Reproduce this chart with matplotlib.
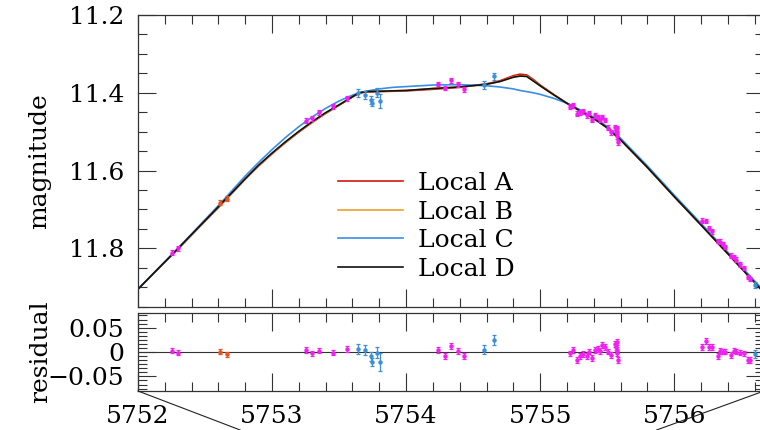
import matplotlib
matplotlib.use("Agg")
from matplotlib import pyplot as plt
from matplotlib.ticker import MultipleLocator
from matplotlib.lines import Line2D

plt.rcParams['font.family'] = ['DejaVu Serif']
plt.rcParams['axes.unicode_minus'] = True

# model light curves (HJD - 2450000, magnitude)
curve_x = [5752.0, 5752.3, 5752.6, 5752.8, 5752.9, 5753.0, 5753.1, 5753.2, 5753.3,
           5753.4, 5753.5, 5753.6, 5753.65, 5753.7, 5753.8, 5753.9, 5754.0, 5754.2,
           5754.4, 5754.6, 5754.7, 5754.8, 5754.85, 5754.9, 5754.95, 5755.0, 5755.1,
           5755.2, 5755.3, 5755.4, 5755.5, 5755.6, 5755.8, 5756.0, 5756.2, 5756.4,
           5756.7]
local_a = [11.905, 11.801, 11.695, 11.622, 11.588, 11.557, 11.528, 11.501, 11.476,
           11.453, 11.432, 11.411, 11.401, 11.398, 11.397, 11.396, 11.395, 11.391,
           11.386, 11.377, 11.369, 11.356, 11.352, 11.354, 11.366, 11.380, 11.404,
           11.427, 11.447, 11.466, 11.490, 11.521, 11.592, 11.667, 11.740, 11.814,
           11.925]
local_b = [11.905, 11.800, 11.694, 11.621, 11.587, 11.556, 11.527, 11.500, 11.475,
           11.452, 11.431, 11.410, 11.400, 11.397, 11.396, 11.395, 11.394, 11.389,
           11.385, 11.378, 11.371, 11.359, 11.356, 11.357, 11.369, 11.382, 11.405,
           11.427, 11.447, 11.466, 11.490, 11.521, 11.592, 11.667, 11.740, 11.814,
           11.925]
local_c = [11.905, 11.799, 11.690, 11.614, 11.579, 11.546, 11.515, 11.487, 11.462,
           11.440, 11.421, 11.406, 11.400, 11.396, 11.390, 11.386, 11.384, 11.380,
           11.379, 11.382, 11.385, 11.390, 11.394, 11.397, 11.400, 11.404, 11.414,
           11.427, 11.444, 11.463, 11.487, 11.517, 11.588, 11.663, 11.736, 11.810,
           11.921]
local_d = [11.905, 11.800, 11.693, 11.621, 11.586, 11.555, 11.526, 11.499, 11.474,
           11.451, 11.431, 11.410, 11.400, 11.397, 11.396, 11.395, 11.394, 11.389,
           11.385, 11.378, 11.371, 11.360, 11.357, 11.358, 11.370, 11.382, 11.405,
           11.427, 11.447, 11.466, 11.490, 11.521, 11.592, 11.667, 11.740, 11.814,
           11.925]

# magenta data set
m_x = [5752.254, 5752.299, 5753.251, 5753.300, 5753.351, 5753.455, 5753.560,
       5754.239, 5754.289, 5754.334, 5754.388, 5754.433,
       5755.221, 5755.246, 5755.276, 5755.300, 5755.321, 5755.346, 5755.366,
       5755.383, 5755.408, 5755.428, 5755.445, 5755.465, 5755.482, 5755.507,
       5755.527, 5755.557, 5755.564, 5755.570, 5755.573, 5755.575, 5755.579,
       5756.207, 5756.235, 5756.258, 5756.280, 5756.324, 5756.345, 5756.362,
       5756.381, 5756.425, 5756.447, 5756.463, 5756.493, 5756.517, 5756.550,
       5756.565]
m_mag = [11.811, 11.800, 11.472, 11.466, 11.450, 11.435, 11.414,
         11.377, 11.388, 11.368, 11.378, 11.391,
         11.436, 11.432, 11.454, 11.450, 11.448, 11.458, 11.452,
         11.470, 11.458, 11.462, 11.470, 11.462, 11.470, 11.490,
         11.502, 11.489, 11.496, 11.504, 11.491, 11.512, 11.527,
         11.729, 11.730, 11.748, 11.756, 11.781, 11.783, 11.789,
         11.797, 11.819, 11.822, 11.829, 11.841, 11.851, 11.874,
         11.879]
m_res = [0.003, -0.001, 0.005, -0.003, 0.003, -0.001, 0.007,
         0.005, -0.008, 0.013, 0.002, -0.009,
         -0.003, 0.005, -0.016, -0.009, -0.004, -0.009, 0.001,
         -0.013, 0.005, 0.006, 0.002, 0.014, 0.011, 0.001,
         -0.006, 0.017, 0.011, 0.005, 0.020, -0.003, -0.016,
         0.011, 0.022, 0.011, 0.011, -0.008, 0.002, 0.001,
         0.001, -0.006, 0.003, 0.001, -0.001, -0.003, -0.016,
         -0.016]
m_err = 0.006

# orange-red data set
o_x = [5752.610, 5752.664]
o_mag = [11.683, 11.672]
o_res = [0.001, -0.005]
o_err = 0.006

# blue data set
b_x = [5753.642, 5753.692, 5753.736, 5753.746, 5753.781, 5753.804, 5754.580, 5754.657, 5756.604]
b_mag = [11.401, 11.405, 11.418, 11.425, 11.400, 11.420, 11.379, 11.358, 11.894]
b_res = [0.006, 0.004, -0.009, -0.021, -0.001, -0.021, 0.005, 0.025, -0.004]
b_err = [0.010, 0.010, 0.010, 0.008, 0.012, 0.018, 0.010, 0.010, 0.008]

fig = plt.figure(figsize=(7.6, 4.3), dpi=100)
ax = fig.add_axes([0.1816, 0.286, 0.8237, 0.679])
axr = fig.add_axes([0.1816, 0.0907, 0.8237, 0.1813])

# curves
ax.plot(curve_x, local_a, color='#d41414', lw=1.2, label='Local A')
ax.plot(curve_x, local_b, color='#f0a030', lw=1.2, label='Local B')
ax.plot(curve_x, local_c, color='#3a8ee6', lw=1.2, label='Local C')
ax.plot(curve_x, local_d, color='#111111', lw=1.2, label='Local D')

# data points
eb = dict(fmt='o', ms=2.2, elinewidth=0.9, capsize=1.6, capthick=0.9, zorder=5)
ax.errorbar(m_x, m_mag, yerr=m_err, color='#f020f0', **eb)
ax.errorbar(o_x, o_mag, yerr=o_err, color='#e8541e', **eb)
ax.errorbar(b_x, b_mag, yerr=b_err, color='#3d8fd8', **eb)

axr.axhline(0, color='#333333', lw=0.8)
axr.errorbar(m_x, m_res, yerr=m_err, color='#f020f0', **eb)
axr.errorbar(o_x, o_res, yerr=o_err, color='#e8541e', **eb)
axr.errorbar(b_x, b_res, yerr=b_err, color='#3d8fd8', **eb)

ax.set_xlim(5752, 5756.67)
ax.set_ylim(11.951, 11.2)
axr.set_xlim(5752, 5756.67)
axr.set_ylim(-0.08, 0.08)

ax.yaxis.set_major_locator(MultipleLocator(0.2))
ax.yaxis.set_minor_locator(MultipleLocator(0.05))
axr.yaxis.set_major_locator(MultipleLocator(0.05))
axr.yaxis.set_minor_locator(MultipleLocator(0.05 / 6))
for a in (ax, axr):
    a.xaxis.set_major_locator(MultipleLocator(1))
    a.xaxis.set_minor_locator(MultipleLocator(0.2))
    a.tick_params(which='both', direction='in', top=True, right=True,
                  color='#333333', width=0.8, labelsize=18, pad=10)
    a.tick_params(which='major', length=13)
    a.tick_params(which='minor', length=6.5)
    for s in a.spines.values():
        s.set_color('#333333')
        s.set_linewidth(0.9)

ax.tick_params(labelbottom=False)
ax.set_yticks([11.2, 11.4, 11.6, 11.8])
axr.set_yticks([-0.05, 0, 0.05])
axr.set_yticklabels(['\u22120.05', '0', '0.05'])
axr.tick_params(axis='x', pad=10)

fig.text(0.052, 0.626, 'magnitude', rotation=90, fontsize=18, ha='center', va='center')
fig.text(0.053, 0.181, 'residual', rotation=90, fontsize=18, ha='center', va='center')

ax.legend(loc='upper left', bbox_to_anchor=(0.319, 0.462), frameon=False,
          fontsize=18, handlelength=2.6, handletextpad=0.6, labelspacing=0.22,
          borderpad=0, borderaxespad=0)

# zoom connector lines toward the panel below
fig.add_artist(Line2D([0.1816, 0.316], [0.0907, 0.0], color='#222222', lw=0.8))
fig.add_artist(Line2D([1.0053, 0.864], [0.0907, 0.0], color='#222222', lw=0.8))

plt.savefig('out.png', dpi=100)
